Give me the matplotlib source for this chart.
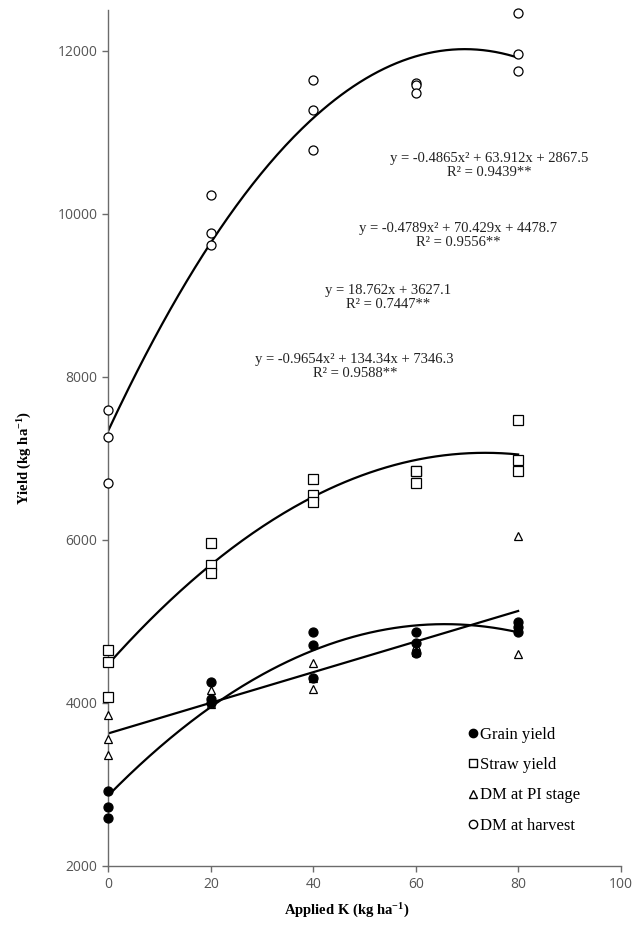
import numpy as np
import matplotlib
matplotlib.use("Agg")
import matplotlib.pyplot as plt
from matplotlib.lines import Line2D

plt.rcParams['mathtext.fontset'] = 'custom'
plt.rcParams['mathtext.rm'] = 'Liberation Serif'
plt.rcParams['mathtext.bf'] = 'Liberation Serif:bold'
plt.rcParams['mathtext.it'] = 'Liberation Serif:italic'

# Applied K levels (kg/ha), three replicates each
k_levels = [0, 20, 40, 60, 80]

grain = [[2920, 2720, 2592], [4260, 4044, 4002], [4873, 4710, 4302],
         [4873, 4731, 4608], [4996, 4935, 4873]]
straw = [[4649, 4505, 4076], [5957, 5691, 5597], [6746, 6549, 6459],
         [6844, 6693, 6840], [7469, 6979, 6847]]
dm_pi = [[3855, 3555, 3365], [4158, 4030, 3990], [4486, 4300, 4167],
         [4700, 4620, 4640], [6047, 4600, 4900]]
dm_harvest = [[7592, 7264, 6700], [10228, 9770, 9623], [11647, 11270, 10788],
              [11605, 11585, 11483], [12464, 11966, 11749]]

# trendline coefficients as printed on the chart (highest power first)
coef_grain = [-0.4865, 63.912, 2867.5]
coef_straw = [-0.4789, 70.429, 4478.7]
coef_pi = [18.762, 3627.1]
coef_harvest = [-0.9654, 134.34, 7346.3]

eq_labels = [
    "y = -0.4865x² + 63.912x + 2867.5\nR² = 0.9439**",
    "y = -0.4789x² + 70.429x + 4478.7\nR² = 0.9556**",
    "y = 18.762x + 3627.1\nR² = 0.7447**",
    "y = -0.9654x² + 134.34x + 7346.3\nR² = 0.9588**",
]
eq_pos = [(74.4, 10596), (68.3, 9738), (54.6, 8971), (48.1, 8131)]

legend_labels = ["Grain yield", "Straw yield", "DM at PI stage", "DM at harvest"]

serif = "Liberation Serif"
sans = "Open Sans"

fig = plt.figure(figsize=(6.33, 9.26), dpi=100)
ax = fig.add_axes([0.1714, 0.0648, 0.8089, 0.9244])


def scatter_series(values, marker, face, size):
    xs = np.repeat(k_levels, [len(v) for v in values])
    ys = np.concatenate(values)
    ax.plot(xs, ys, linestyle='none', marker=marker, markersize=size,
            markerfacecolor=face, markeredgecolor='black', markeredgewidth=0.9,
            zorder=3, clip_on=False)


xfit = np.linspace(0, 80, 200)
for coef in [coef_harvest, coef_straw, coef_grain, coef_pi]:
    ax.plot(xfit, np.polyval(coef, xfit), color='black', lw=1.6, zorder=2)

scatter_series(dm_harvest, 'o', 'white', 6.5)
scatter_series(straw, 's', 'white', 6.5)
scatter_series(dm_pi, '^', 'white', 6.3)
scatter_series(grain, 'o', 'black', 6.5)

for txt, (x, y) in zip(eq_labels, eq_pos):
    ax.text(x, y, txt, ha='center', va='center', fontsize=10.5,
            family=serif, linespacing=1.1, color='#222222')

ax.set_xlim(0, 100)
ax.set_ylim(2000, 12500)
ax.set_xticks([0, 20, 40, 60, 80, 100])
ax.set_yticks([2000, 4000, 6000, 8000, 10000, 12000])
for s in ['top', 'right']:
    ax.spines[s].set_visible(False)
for s in ['left', 'bottom']:
    ax.spines[s].set_color('#6b6b6b')
    ax.spines[s].set_linewidth(1.0)
ax.tick_params(direction='out', length=4, width=1, color='#6b6b6b',
               labelsize=10, labelcolor='#555555', pad=4)
for lab in ax.get_xticklabels() + ax.get_yticklabels():
    lab.set_family(sans)

handles = [
    Line2D([], [], ls='none', marker='o', mfc='black', mec='black', ms=6),
    Line2D([], [], ls='none', marker='s', mfc='white', mec='black', ms=6),
    Line2D([], [], ls='none', marker='^', mfc='white', mec='black', ms=6),
    Line2D([], [], ls='none', marker='o', mfc='white', mec='black', ms=6),
]
ax.legend(handles, legend_labels, loc='upper left', frameon=False,
          bbox_to_anchor=(468 / 633, 1 - 727 / 926), bbox_transform=fig.transFigure,
          prop={'family': serif, 'size': 12}, handlelength=0.6,
          handletextpad=0.1, labelspacing=0.85, borderpad=0, borderaxespad=0)

fig.text(347 / 633, 1 - 911 / 926, r"Applied K (kg ha$\mathbf{^{-1}}$)",
         ha='center', va='center', fontsize=10.5, fontweight='bold', family=serif)
fig.text(25 / 633, 1 - 458 / 926, r"Yield (kg ha$\mathbf{^{-1}}$)",
         ha='center', va='center', rotation=90, fontsize=10.5,
         fontweight='bold', family=serif)

fig.savefig("out.png", dpi=100)
